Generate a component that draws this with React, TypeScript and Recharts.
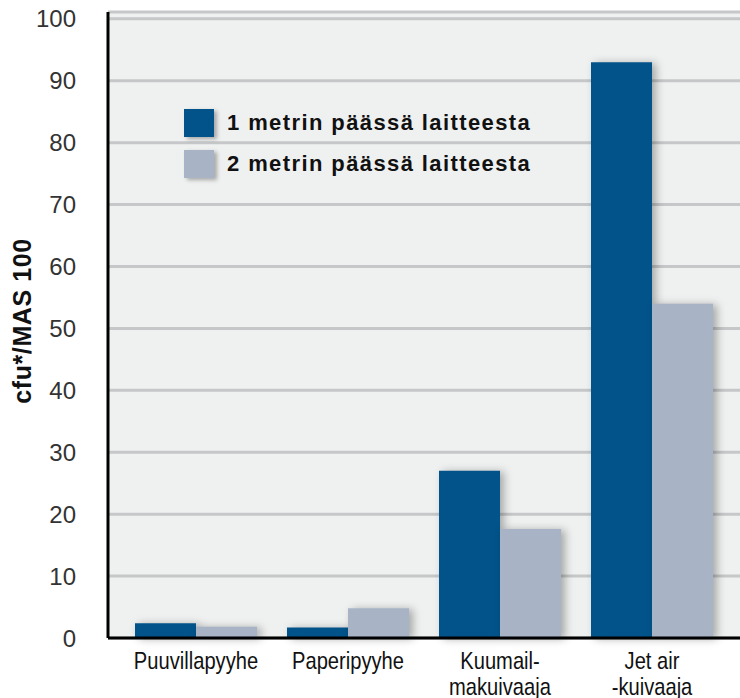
import React from 'react';
import { BarChart, Bar, XAxis, YAxis, CartesianGrid } from 'recharts';

const categories = ['Puuvillapyyhe', 'Paperipyyhe', 'Kuumail-\nmakuivaaja', 'Jet air\n-kuivaaja'];
const oneMeter = [2.4, 1.7, 27, 93];
const twoMeter = [1.8, 4.8, 17.6, 54];
const yTicks = [0, 10, 20, 30, 40, 50, 60, 70, 80, 90, 100];
const seriesNames = ['1 metrin päässä laitteesta', '2 metrin päässä laitteesta'];

const BLUE = '#02538a';
const GRAY = '#a8b4c6';

const data = categories.map((name, i) => ({ name, a: oneMeter[i], b: twoMeter[i] }));

const sans = "'Liberation Sans', Arial, Helvetica, sans-serif";

// condensed look: no narrow font installed, so squeeze horizontally
const CategoryTick = (props: any) => {
  const { x, y, payload } = props;
  const lines = String(payload.value).split('\n');
  return (
    <g transform={`translate(${x},${y}) scale(0.84,1)`}>
      {lines.map((l, i) => (
        <text key={i} x={0} y={i * 26} dy={23} textAnchor="middle" fill="#111" fontSize={24} fontFamily={sans}>
          {l}
        </text>
      ))}
    </g>
  );
};

const LegendBox = () => (
  <div
    style={{
      position: 'absolute',
      left: 184,
      top: 102,
      fontFamily: sans,
      fontWeight: 'bold',
      fontSize: 22,
      letterSpacing: 1.4,
      color: '#111',
      whiteSpace: 'nowrap',
    }}
  >
    {seriesNames.map((n, i) => (
      <div key={n} style={{ display: 'flex', alignItems: 'center', height: 41 }}>
        <div
          style={{
            width: 30,
            height: 28,
            background: i === 0 ? BLUE : GRAY,
            marginRight: 13,
            boxShadow: '3px 2px 4px rgba(0,0,0,0.3)',
          }}
        />
        <span>{n}</span>
      </div>
    ))}
  </div>
);

const YLabel = () => (
  <text
    x={22}
    y={321}
    transform="rotate(-90, 22, 321)"
    textAnchor="middle"
    dominantBaseline="central"
    fontFamily={sans}
    fontWeight="bold"
    fontSize={25}
    letterSpacing={0.6}
    fill="#111"
  >
    cfu*/MAS 100
  </text>
);

export default function App() {
  return (
    <div style={{ position: 'absolute', left: 0, top: 0, width: 740, height: 698, background: '#fff' }}>
      <BarChart
        width={740}
        height={698}
        data={data}
        margin={{ top: 12, right: 0, bottom: 0, left: 0 }}
        barGap={0}
        barSize={61}
      >
        <CartesianGrid vertical={false} stroke="#c6c7c8" strokeWidth={3} fill="#eff0f0" />
        <XAxis
          dataKey="name"
          height={60}
          padding={{ left: 12, right: 12 }}
          axisLine={{ stroke: '#000', strokeWidth: 3 }}
          tickLine={false}
          tick={<CategoryTick />}
          interval={0}
        />
        <YAxis
          width={108}
          domain={[0, 101.1]}
          ticks={yTicks}
          interval={0}
          axisLine={{ stroke: '#000', strokeWidth: 3 }}
          tickLine={false}
          tickMargin={26}
          tick={{ fill: '#333', fontSize: 24, fontFamily: sans }}
          label={<YLabel />}
        />
        <Bar
          dataKey="a"
          name={seriesNames[0]}
          fill={BLUE}
          isAnimationActive={false}
          style={{ filter: 'drop-shadow(4px 1px 4px rgba(0,0,0,0.3))' }}
        />
        <Bar
          dataKey="b"
          name={seriesNames[1]}
          fill={GRAY}
          isAnimationActive={false}
          style={{ filter: 'drop-shadow(4px 1px 4px rgba(0,0,0,0.3))' }}
        />
      </BarChart>
      <LegendBox />
    </div>
  );
}
